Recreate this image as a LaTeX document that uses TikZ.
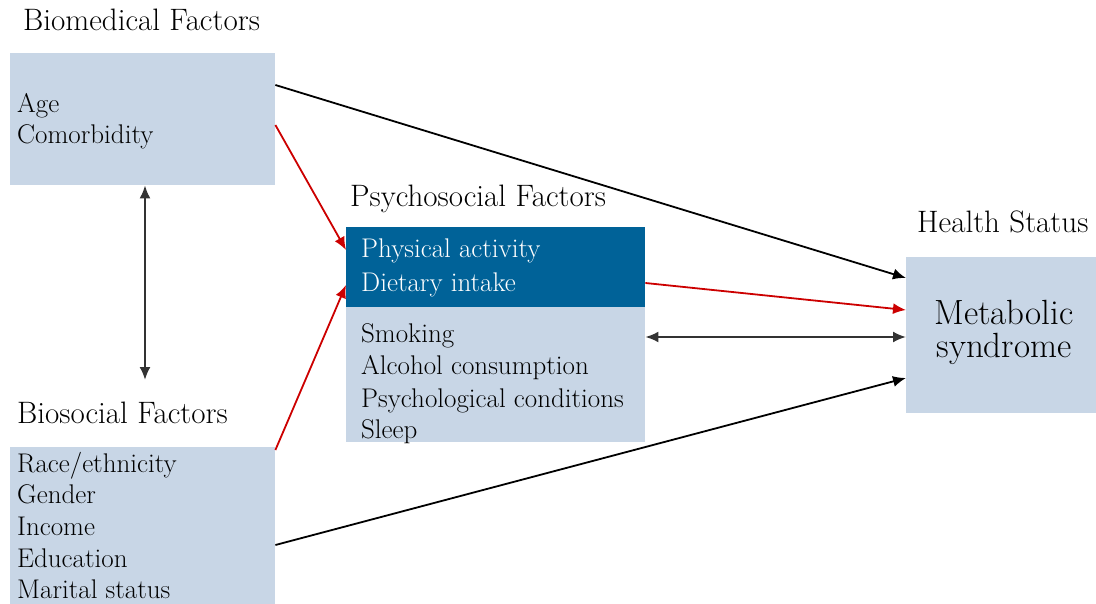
\documentclass[tikz,border=0pt]{standalone}
\usepackage{fontspec}
\usetikzlibrary{arrows.meta}
\definecolor{lightbox}{RGB}{200,214,230}
\definecolor{darkbox}{RGB}{0,98,152}
\definecolor{arrowred}{RGB}{204,0,0}
\begin{document}
\begin{tikzpicture}[x=1pt,y=-1pt,
  box/.style={fill=lightbox,draw=none,inner sep=0pt,anchor=north west},
  darkfill/.style={fill=darkbox,draw=none,inner sep=0pt,anchor=north west},
  title/.style={anchor=base west,inner sep=0pt,font=\fontsize{31}{35}\selectfont},
  item/.style={anchor=base west,inner sep=0pt,font=\fontsize{27}{31}\selectfont},
  whiteitem/.style={item,text=white},
  big/.style={anchor=base,inner sep=0pt,font=\fontsize{35}{40}\selectfont},
  blk/.style={draw=black,line width=1.8pt,-{Latex[length=13pt,width=11pt]}},
  red/.style={draw=arrowred,line width=1.8pt,-{Latex[length=13pt,width=11pt]}},
  dbl/.style={draw=black!80,line width=2pt,{Latex[length=13pt,width=11pt]}-{Latex[length=13pt,width=11pt]}}
]
\useasboundingbox (0,0) rectangle (1096,604);

% boxes
\node[box,minimum width=265pt,minimum height=132pt] (bm) at (10,53) {};
\node[box,minimum width=265pt,minimum height=157pt] (bs) at (10,447) {};
\node[darkfill,minimum width=299pt,minimum height=80pt] (ps) at (346,227) {};
\node[box,minimum width=299pt,minimum height=135pt] (psl) at (346,307) {};
\node[box,minimum width=190pt,minimum height=156pt] (ms) at (906,257) {};

% titles
\node[title] (tbm) at (23,31) {Biomedical Factors};
\node[title] (tbs) at (17,423) {Biosocial Factors};
\node[title] (tps) at (350,207) {Psychosocial Factors};
\node[title] (tms) at (917,233) {Health Status};

% items
\node[item] (age) at (17,113) {Age};
\node[item] (com) at (17,144) {Comorbidity};

\node[item] (race) at (17,472) {Race/ethnicity};
\node[item] (gen) at (17,503) {Gender};
\node[item] (inc) at (17,535) {Income};
\node[item] (edu) at (17,567) {Education};
\node[item] (mar) at (17,598) {Marital status};

\node[whiteitem] (phy) at (361,258) {Physical activity};
\node[whiteitem] (die) at (361,292) {Dietary intake};
\node[item] (smo) at (361,343) {Smoking};
\node[item] (alc) at (361,374) {Alcohol consumption};
\node[item] (psy) at (361,407) {Psychological conditions};
\node[item] (sle) at (361,438) {Sleep};

\node[big] (met) at (1004,325) {Metabolic};
\node[big] (syn) at (1004,358) {syndrome};

% connectors
\coordinate (vlow) at (145,380);
\draw[blk] ([yshift=-32pt]bm.north east) -- ([yshift=-21pt]ms.north west);
\draw[red] ([yshift=-72pt]bm.north east) -- ([yshift=-23pt]ps.north west);
\draw[red] ([yshift=-3pt]bs.north east) -- ([yshift=-58pt]ps.north west);
\draw[blk] ([yshift=-98pt]bs.north east) -- ([yshift=-121pt]ms.north west);
\draw[red] ([yshift=-56pt]ps.north east) -- ([yshift=-53pt]ms.north west);
\draw[dbl] ([yshift=-30pt]psl.north east) -- ([yshift=-80pt]ms.north west);
\draw[dbl] ([xshift=135pt]bm.south west) -- (vlow);
\end{tikzpicture}
\end{document}
